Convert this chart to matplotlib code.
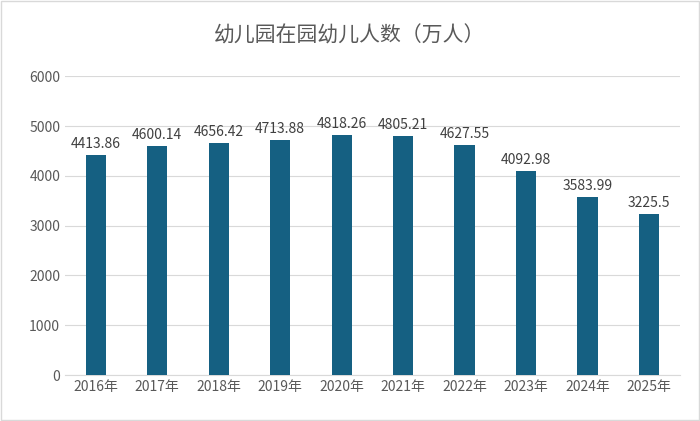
import matplotlib
matplotlib.use("Agg")
import matplotlib.pyplot as plt

plt.rcParams['font.family'] = ['Noto Sans CJK SC', 'DejaVu Sans']

years = ["2016年","2017年","2018年","2019年","2020年","2021年","2022年","2023年","2024年","2025年"]
values = [4413.86, 4600.14, 4656.42, 4713.88, 4818.26, 4805.21, 4627.55, 4092.98, 3583.99, 3225.5]
labels = ["4413.86","4600.14","4656.42","4713.88","4818.26","4805.21","4627.55","4092.98","3583.99","3225.5"]

fig = plt.figure(figsize=(7, 4.21), dpi=100)
ax = fig.add_axes([0.093, 0.109, 0.878, 0.71])
x = range(len(years))
bars = ax.bar(x, values, width=0.33, color='#156082', zorder=3)
for xi, v, lab in zip(x, values, labels):
    ax.text(xi, v + 80, lab, ha='center', va='bottom', fontsize=10, color='#404040')
ax.set_ylim(0, 6000)
ax.set_xlim(-0.5, len(years) - 0.5)
ax.set_yticks(range(0, 6001, 1000))
ax.set_xticks(list(x))
ax.set_xticklabels(years)
ax.tick_params(axis='both', length=0, labelsize=10, colors='#595959')
ax.grid(axis='y', color='#d9d9d9', linewidth=0.8, zorder=0)
for s in ['top', 'right', 'left']:
    ax.spines[s].set_visible(False)
ax.spines['bottom'].set_color('#d9d9d9')
fig.text(0.5, 0.915, "幼儿园在园幼儿人数（万人）", ha='center', va='center', fontsize=15, color='#595959')
fig.patches.append(plt.Rectangle((0.002, 0.003), 0.996, 0.994, transform=fig.transFigure,
                                 fill=False, edgecolor='#d9d9d9', linewidth=1))
fig.savefig("out.png", dpi=100)
